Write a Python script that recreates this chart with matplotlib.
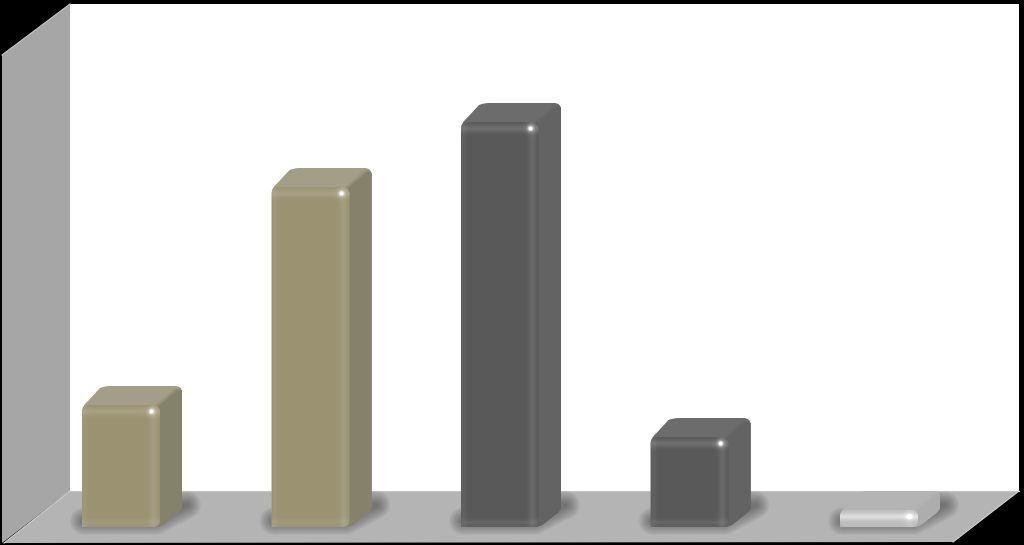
import numpy as np
import matplotlib
matplotlib.use("Agg")
import matplotlib.pyplot as plt
from matplotlib.colors import to_rgba
from matplotlib.patches import FancyBboxPatch, Polygon, PathPatch
from matplotlib.path import Path
from matplotlib.transforms import IdentityTransform

# bar heights (pixels above the floor line, no axis is shown)
positions = [0, 1, 2, 3, 4]
values = [122, 340, 405, 90, 17]
front_colors = ["#9b9272", "#9b9272", "#595959", "#595959", "#bdbdbd"]
top_colors = ["#a29e88", "#a29e88", "#6c6c6c", "#6c6c6c", "#b4b4b4"]
side_colors = ["#85826c", "#85826c", "#636363", "#636363", "#adadad"]

W, H = 1024, 545
BAR_W = 78
DX, DY = 22, 19
R = 7

fig = plt.figure(figsize=(W / 100, H / 100), dpi=100, facecolor="black")
ax = fig.add_axes([0, 0, 1, 1])
ax.axis("off")
ax.set_xlim(-121 / 189.5, (W - 121) / 189.5)
ax.set_ylim(-18, 527)
id_tr = IdentityTransform()


def d(x, y):
    # picture pixels (y down) to display coordinates
    return (x, H - y)


def poly(points, color, z, **kw):
    p = Polygon([d(*q) for q in points], closed=True, facecolor=color, edgecolor="none",
                transform=id_tr, zorder=z, **kw)
    ax.add_patch(p)
    return p


# walls and floor
poly([(70, 4), (1019, 4), (1019, 491), (70, 491)], "white", 1)
poly([(2, 55), (70, 4), (70, 491), (2, 543)], "#a6a6a6", 2)
poly([(70, 491), (1019, 491), (953, 542), (4, 543)], "#b4b4b4", 2)
ax.plot(*zip(d(70, 491), d(4, 543)), color="#d0d0d0", lw=0.8, transform=id_tr, zorder=3)
ax.plot(*zip(d(70, 491), d(1019, 491)), color="#c4c4c4", lw=0.8, transform=id_tr, zorder=3)
ax.plot(*zip(d(2, 55), d(70, 4)), color="#c8c8c8", lw=0.8, transform=id_tr, zorder=3)
ax.plot(*zip(d(1019, 491), d(953, 542)), color="#d0d0d0", lw=0.8, transform=id_tr, zorder=3)

bars = ax.bar(positions, values, width=BAR_W / 189.5, zorder=8)
fig.canvas.draw()

for bar, fc, tc, sc in zip(bars, front_colors, top_colors, side_colors):
    ext = bar.get_window_extent()
    x0, x1 = ext.x0, ext.x1
    top, bot = H - ext.y1, H - ext.y0
    small = (bot - top) < 30
    r = 6 if small else R

    # soft shadow on the floor: only round-joined strokes, so no hard edge shows
    shadow = [(x0 + 2, bot - 6), (x1 - 4, bot - 6), (x1 + DX + 5, bot - DY - 3), (x1 + 6, bot - DY - 3)]
    for lw in np.linspace(20, 2, 12):
        p = poly(shadow, "none", 4)
        p.set_edgecolor((0.2, 0.2, 0.2, 0.05))
        p.set_linewidth(lw)
        p.set_joinstyle("round")

    # rounded silhouette of the side and top faces
    xb, yt = x1 + DX, top - DY
    verts = [d(x0, top + r), d(x0, top + 1), d(x0 + 6, top - 4),
             d(x0 + DX - 4, yt + 2), d(x0 + DX + 1, yt), d(x0 + DX + 6, yt),
             d(xb - r, yt), d(xb, yt), d(xb, yt + r),
             d(xb, bot - DY - 2), d(xb, bot - DY + 2), d(xb - 4, bot - DY + 5),
             d(x1 + 3, bot - 2), d(x1 - 3, bot), d(x0, bot), d(x0, top + r)]
    codes = [Path.MOVETO, Path.CURVE3, Path.CURVE3,
             Path.LINETO, Path.CURVE3, Path.CURVE3,
             Path.LINETO, Path.CURVE3, Path.CURVE3,
             Path.LINETO, Path.CURVE3, Path.CURVE3,
             Path.LINETO, Path.LINETO, Path.LINETO, Path.CLOSEPOLY]
    silhouette = PathPatch(Path(verts, codes), facecolor=tc, edgecolor="none", transform=id_tr, zorder=6)
    ax.add_patch(silhouette)
    side_pts = [(x1 - 3, top + 3), (xb - 5, yt + 5), (xb + 1, yt + 4), (xb + 1, bot - DY + 6), (x1 - 3, bot + 1)]
    for lw, a in [(5, 0.25), (3, 0.35), (1, 0.5)]:
        side = poly(side_pts, to_rgba(sc, a), 7)
        side.set_edgecolor(to_rgba(sc, a))
        side.set_linewidth(lw)
        side.set_clip_path(silhouette)
    side = poly(side_pts, sc, 7)
    side.set_clip_path(silhouette)

    # front face: the bar itself, rounded, with bevel shading on top
    clip = FancyBboxPatch((x0 + r, H - bot + r), x1 - x0 - 2 * r, bot - top - 2 * r,
                          boxstyle=f"round,pad={r},rounding_size={r}", transform=id_tr,
                          facecolor="none", edgecolor="none", zorder=8)
    ax.add_patch(clip)
    bar.set_facecolor(fc)
    bar.set_clip_path(clip)

    w, h = int(round(x1 - x0)), int(round(bot - top))
    yy, xx = np.mgrid[0:h, 0:w]
    if small:
        light = 0.5 * np.exp(-((yy - h * 0.36) / 3.5) ** 2) + 0.12 * np.exp(-((w - 1 - xx - 8) / 5.0) ** 2)
    else:
        light = (0.13 * np.exp(-((yy - 6) / 4.0) ** 2)
                 + 0.10 * np.exp(-((w - 1 - xx - 6) / 4.0) ** 2)
                 + 0.05 * np.exp(-((xx - 2) / 3.0) ** 2)
                 + 0.07 * np.exp(-((h - 1 - yy - 4) / 3.5) ** 2))
    sy = h * 0.36 if small else 6
    dist2 = (xx - (w - 9)) ** 2 + (yy - sy) ** 2
    spot = 0.95 * np.exp(-dist2 / 4.5) + 0.25 * np.exp(-dist2 / 20.0)
    alpha = np.clip(light + spot, 0, 1)
    rgba = np.ones((h, w, 4))
    rgba[..., 3] = alpha
    im = ax.imshow(rgba, extent=(x0, x0 + w, H - bot, H - bot + h), transform=id_tr,
                   origin="upper", aspect="auto", interpolation="bilinear", zorder=9)
    im.set_clip_path(clip)

ax.set_xlim(-121 / 189.5, (W - 121) / 189.5)
ax.set_ylim(-18, 527)
ax.axis("off")
fig.savefig("out.png", dpi=100, facecolor="black")
